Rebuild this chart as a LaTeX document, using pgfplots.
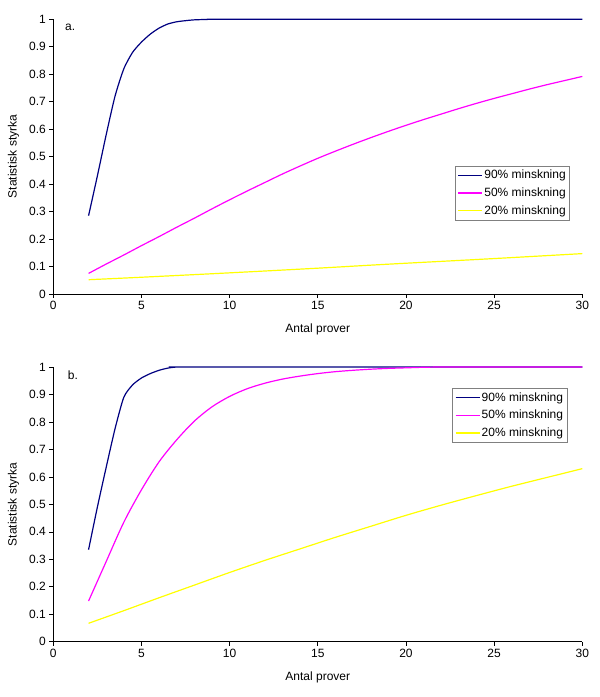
\documentclass[border=0pt]{standalone}
\usepackage{pgfplots}
\pgfplotsset{compat=1.18}
\usepackage{fontspec}
\setmainfont{Liberation Sans}
\definecolor{navyc}{RGB}{0,0,128}
\definecolor{magc}{RGB}{255,0,255}
\definecolor{yelc}{RGB}{255,255,0}
\pgfplotsset{
 mystyle/.style={
  scale only axis, width=529pt, height=274.7pt,
  xmin=0,xmax=30,ymin=0,ymax=1,
  axis x line=bottom, axis y line=left,
  axis line style={-, black, line width=0.6pt},
  xtick={0,5,10,15,20,25,30},
  ytick={0,0.1,0.2,0.3,0.4,0.5,0.6,0.7,0.8,0.9,1},
  yticklabels={0,0.1,0.2,0.3,0.4,0.5,0.6,0.7,0.8,0.9,1},
  tick align=outside, major tick length=4pt,
  tick style={black, line width=0.6pt},
  /pgf/number format/assume math mode=true,
  tick label style={font=\fontsize{12}{14}\selectfont},
  label style={font=\fontsize{12}{14}\selectfont},
  xlabel={Antal prover}, ylabel={Statistisk styrka},
  xlabel style={at={(axis description cs:0.5,-0.13)}, anchor=center},
  ylabel style={at={(axis description cs:-0.075,0.5)}, anchor=center},
  clip=false,
  legend cell align=left,
  legend style={draw=gray, line width=0.5pt, font=\fontsize{12}{14}\selectfont,
    inner sep=2.5pt, row sep=4.5pt, nodes={inner sep=1.5pt}},
  legend image code/.code={\draw[line width=1.3pt, #1] (0pt,0pt) -- (24pt,0pt);},
 }
}
\begin{document}
\begin{tikzpicture}
\path[use as bounding box] (0,0) rectangle (600pt,697pt);
\begin{axis}[mystyle, at={(53.3pt,403pt)}, anchor=south west,
  legend style={at={(axis description cs:0.759,0.466)}, anchor=north west}]
\addplot[color=navyc, draw=navyc, line width=1.2pt, smooth, tension=0.4] coordinates {(2,0.285)(2.5,0.43)(3,0.58)(3.5,0.72)(4,0.82)(4.5,0.88)(5,0.917)(5.5,0.946)(6,0.968)(6.5,0.983)(7,0.991)(7.5,0.995)(8,0.998)(9,1.0)(10,1.0)(30,1.0)};
\addlegendentry{90\% minskning}
\addplot[color=magc, draw=magc, line width=1.2pt, smooth] coordinates {(2,0.075)(3,0.109)(4,0.142)(5,0.176)(6,0.209)(7,0.243)(8,0.276)(9,0.31)(10,0.343)(11,0.375)(12,0.406)(13,0.437)(14,0.466)(15,0.494)(16,0.52)(17,0.545)(18,0.569)(19,0.592)(20,0.614)(21,0.635)(22,0.655)(23,0.675)(24,0.694)(25,0.712)(26,0.729)(27,0.746)(28,0.762)(29,0.777)(30,0.792)};
\addlegendentry{50\% minskning}
\addplot[color=yelc, draw=yelc, line width=1.2pt, smooth] coordinates {(2,0.052)(5,0.061)(10,0.077)(15,0.094)(18,0.105)(20,0.112)(25,0.129)(30,0.147)};
\addlegendentry{20\% minskning}
\node[font=\fontsize{12}{14}\selectfont] at (rel axis cs:0.032,0.972) {a.};
\end{axis}
\begin{axis}[mystyle, at={(53.3pt,55.3pt)}, anchor=south west,
  legend style={at={(axis description cs:0.754,0.9225)}, anchor=north west}]
\addplot[color=navyc, draw=navyc, line width=1.2pt, smooth, tension=0.4] coordinates {(2,0.335)(2.5,0.49)(3,0.635)(3.5,0.775)(4,0.89)(4.5,0.935)(5,0.96)(5.5,0.976)(6,0.988)(6.5,0.996)(7,1.0)(8,1.0)(30,1.0)};
\addlegendentry{90\% minskning}
\addplot[color=magc, draw=magc, line width=1.2pt, smooth] coordinates {(2,0.148)(3,0.292)(4,0.435)(5,0.553)(6,0.655)(7,0.735)(8,0.803)(9,0.855)(10,0.893)(11,0.921)(12,0.941)(13,0.956)(14,0.967)(15,0.976)(16,0.983)(17,0.988)(18,0.992)(19,0.995)(20,0.997)(21,0.999)(22,1)(23,1)(30,1)};
\addlegendentry{50\% minskning}
\addplot[color=yelc, draw=yelc, line width=1.2pt, smooth] coordinates {(2,0.067)(4,0.113)(6,0.16)(8,0.206)(10,0.252)(12,0.296)(14,0.338)(16,0.38)(18,0.42)(20,0.46)(22,0.497)(24,0.532)(26,0.566)(28,0.598)(30,0.63)};
\addlegendentry{20\% minskning}
\node[font=\fontsize{12}{14}\selectfont] at (rel axis cs:0.037,0.97) {b.};
\end{axis}
\end{tikzpicture}
\end{document}
